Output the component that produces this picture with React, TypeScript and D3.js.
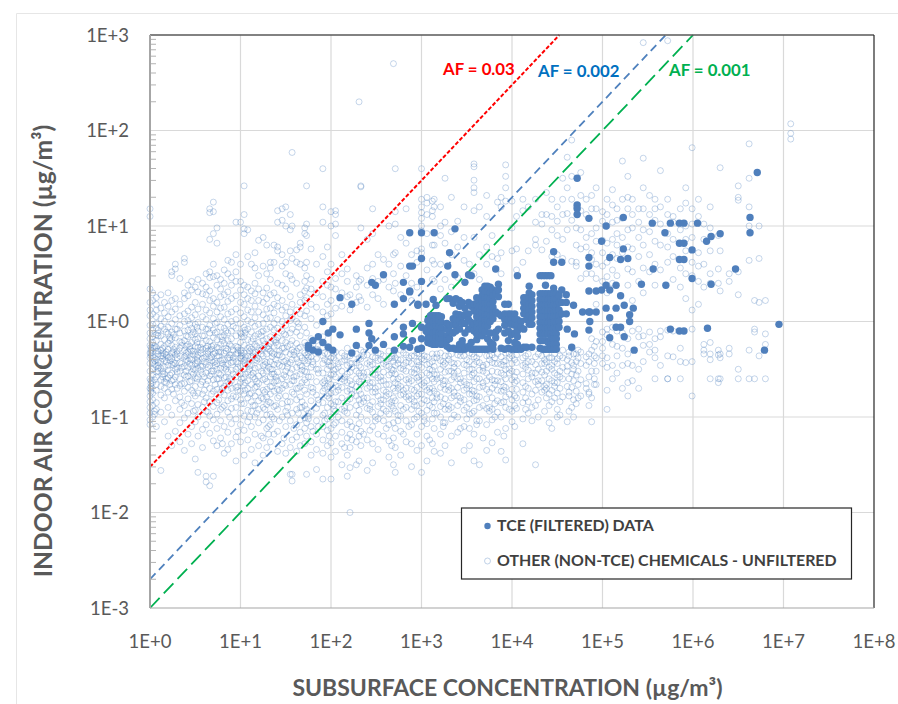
import React from "react";
import * as d3 from "d3";

// All values are log10 x 100: [x, y, y, y ...]
const otherLow: number[][] = [
[0,118,110,34,20,12,6,-4,-12,-18,-25,-33,-38,-44,-52,-60,-70,-78,-84,-90,-96,-103,-108],
[3,30,22,8,-3,-9,-16,-22,-28,-37,-43,-50,-56,-64,-75,-82,-88,-100],
[7,25,18,12,5,-2,-7,-14,-20,-27,-31,-40,-47,-53,-58,-66,-72,-85,-92,-110],
[12,28,14,3,-5,-15,-24,-30,-36,-42,-49,-61,-68,-77,-95,-156],
[16,20,9,0,-8,-19,-26,-34,-41,-48,-55,-63,-70,-80,-105],
[20,30,16,5,-6,-13,-23,-29,-38,-46,-51,-59,-74,-90,-120],
[24,52,48,22,10,-2,-11,-18,-25,-33,-39,-45,-54,-62,-71,-98,-130],
[28,60,55,24,13,2,-8,-17,-27,-35,-44,-50,-58,-66,-83,-115],
[33,45,18,6,-4,-12,-21,-28,-36,-43,-52,-60,-67,-79,-92,-106,-126],
[38,66,62,30,24,8,0,-10,-20,-30,-37,-47,-56,-65,-73,-88,-101,-135],
[42,38,27,11,1,-9,-16,-24,-32,-41,-48,-57,-69,-81,-96,-118],
[46,42,33,15,4,-7,-14,-22,-31,-40,-46,-53,-62,-72,-86,-110,-128],
[50,36,20,7,-3,-13,-19,-26,-34,-44,-51,-59,-68,-78,-93,-105,-144],
[53,44,31,13,-1,-10,-18,-27,-35,-42,-49,-58,-75,-87,-100,-120,-158],
[58,40,29,18,5,-6,-15,-23,-29,-39,-47,-55,-63,-76,-90,-113,-132],
[62,50,36,28,12,2,-8,-20,-28,-37,-45,-54,-66,-80,-94,-108,-162,-168],
[66,118,114,86,52,46,32,22,9,-4,-12,-21,-30,-38,-46,-57,-70,-84,-99,-117,-172],
[70,125,115,92,60,47,24,16,3,-9,-17,-25,-34,-43,-52,-61,-73,-89,-103,-125,-162],
[74,98,82,48,38,20,10,-1,-11,-19,-27,-36,-44,-50,-60,-71,-85,-97,-112,-130],
[78,44,34,26,14,5,-6,-16,-24,-32,-41,-49,-56,-65,-74,-92,-104,-122],
[82,54,40,28,15,2,-7,-14,-23,-33,-40,-48,-59,-68,-77,-88,-110,-138],
[86,64,50,31,21,8,-3,-12,-20,-29,-38,-45,-53,-63,-72,-83,-95,-116,-134],
[90,62,46,38,24,10,0,-10,-18,-26,-35,-43,-51,-62,-70,-81,-91,-107,-128],
[95,104,70,52,42,27,13,2,-7,-15,-26,-34,-42,-50,-58,-69,-79,-90,-102,-121,-146],
[100,104,60,42,33,20,9,-2,-12,-22,-31,-38,-47,-55,-64,-73,-82,-96,-108,-126],
[104,142,112,97,92,38,28,18,5,-6,-16,-25,-33,-41,-50,-59,-67,-76,-86,-99,-114,-140],
[108,96,68,36,24,12,1,-8,-19,-28,-36,-44,-53,-62,-70,-80,-93,-105,-124],
[112,60,32,22,10,-1,-11,-21,-29,-37,-46,-56,-66,-75,-84,-94,-110,-134],
[116,72,56,40,29,16,4,-5,-15,-24,-32,-40,-49,-60,-69,-78,-88,-100,-118,-148],
[120,85,48,34,22,10,-3,-13,-22,-30,-39,-48,-57,-65,-74,-83,-92,-106,-130],
[125,88,58,30,20,7,-2,-10,-20,-28,-36,-46,-54,-61,-72,-81,-90,-103,-122,-140],
[129,80,50,35,24,13,3,-8,-18,-27,-34,-43,-52,-63,-71,-79,-87,-98,-112,-132],
[133,62,56,44,28,14,4,-6,-16,-23,-31,-42,-50,-58,-68,-76,-85,-97,-108,-126],
[137,80,62,30,18,9,-2,-9,-19,-26,-34,-45,-55,-64,-73,-89,-102,-118],
[141,116,104,78,74,40,25,16,2,-7,-17,-25,-35,-44,-53,-62,-71,-80,-92,-115,-136],
[146,118,106,70,58,38,22,12,0,-10,-20,-28,-37,-47,-60,-70,-86,-100,-128],
[150,120,100,62,50,34,15,6,-4,-14,-22,-32,-41,-52,-58,-67,-78,-94,-110,-138],
[155,112,96,74,48,26,10,1,-12,-24,-34,-43,-54,-66,-84,-104,-132,-160],
[157,177,100,66,44,18,4,-8,-20,-30,-40,-50,-62,-74,-96,-124,-160,-167],
[162,75,62,40,12,0,-11,-23,-31,-39,-48,-57,-70,-82,-92,-108,-121,-136],
[166,82,78,60,28,20,8,-15,-27,-36,-46,-55,-68,-79,-90,-103,-116,-130],
[171,98,92,56,42,32,22,6,-6,-22,-33,-41,-52,-61,-72,-88,-101,-112,-128],
[173,142,102,90,62,48,35,25,11,-12,-25,-35,-44,-53,-64,-76,-92,-106,-120,-160],
[178,76,44,34,18,3,-18,-28,-37,-48,-58,-69,-83,-95,-110,-126,-140],
[184,60,30,15,-4,-20,-29,-39,-50,-63,-77,-91,-104,-118,-134,-155],
];
const otherMid: number[][] = [
[191,160,120,104,68,42,26,10,-16,-27,-36,-44,-54,-64,-73,-85,-98,-110,-124,-138,-165],
[196,78,52,38,18,6,-26,-34,-42,-50,-59,-68,-78,-90,-102,-114,-130],
[200,115,100,60,36,22,8,-30,-38,-47,-56,-66,-75,-86,-100,-112,-127,-142,-165],
[205,116,112,102,90,45,34,14,-32,-41,-50,-58,-67,-74,-84,-94,-106,-120,-136],
[212,70,50,30,16,-33,-42,-52,-60,-69,-80,-92,-104,-116,-128,-150],
[218,55,42,26,-28,-37,-46,-55,-64,-73,-83,-96,-108,-122,-140,-162],
[221,28,12,-36,-44,-53,-62,-71,-81,-90,-105,-118,-132,-153,-200],
[228,48,36,20,-34,-43,-52,-60,-68,-78,-88,-98,-112,-126,-150],
[231,230,42,26,-38,-46,-54,-63,-72,-82,-93,-107,-120,-146],
[233,141,142,98,44,22,-30,-39,-48,-57,-66,-76,-86,-100,-115,-130],
[240,86,56,38,15,-35,-44,-53,-61,-70,-80,-91,-104,-124,-156],
[246,118,92,60,45,28,-37,-45,-55,-64,-74,-84,-95,-110,-128,-148],
[252,70,42,24,-33,-41,-50,-59,-68,-78,-89,-102,-118,-134],
[258,65,44,18,-36,-44,-53,-62,-72,-82,-92,-104,-120],
[264,100,60,36,-31,-39,-47,-56,-66,-76,-86,-97,-108,-125,-142],
[269,270,70,50,32,-34,-42,-51,-60,-70,-80,-91,-106,-122,-150],
[271,160,115,102,72,40,-38,-46,-55,-64,-73,-83,-94,-112,-132,-158],
[277,88,58,28,-30,-40,-49,-58,-68,-77,-88,-99,-115,-140],
[283,118,82,48,-35,-43,-52,-61,-70,-79,-90,-104,-126],
[289,70,40,22,-36,-44,-53,-62,-71,-81,-92,-108,-128,-152],
[295,74,62,36,-33,-42,-50,-59,-69,-78,-88,-100,-118,-135],
[300,160,128,120,114,108,100,95,76,72,-31,-39,-48,-56,-66,-76,-86,-96,-110,-130,-158],
[306,130,124,112,92,54,-37,-45,-54,-62,-72,-83,-93,-107,-120,-146],
[312,126,116,110,80,64,44,-34,-42,-51,-60,-70,-80,-90,-102,-128],
[314,128,120,80,60,42,-38,-47,-55,-63,-73,-84,-96,-112,-136],
[321,120,100,90,60,34,-33,-41,-50,-59,-69,-79,-89,-100,-118,-138],
[326,150,104,82,44,-36,-44,-53,-62,-71,-81,-92,-106,-130],
[333,130,94,70,36,-34,-43,-52,-61,-70,-80,-90,-102,-120,-148],
[340,105,78,46,-35,-44,-52,-60,-69,-78,-88,-100,-116],
[347,120,88,64,-36,-45,-54,-63,-72,-82,-93,-110,-135],
[353,60,-33,-42,-50,-58,-67,-76,-86,-97,-112,-130],
[358,165,162,148,140,135,116,88,50,-37,-45,-54,-63,-73,-83,-94,-118,-146],
[364,120,70,44,-34,-43,-51,-60,-69,-79,-90,-104,-150],
[372,132,110,78,60,-36,-45,-54,-62,-71,-81,-91,-108,-135],
[378,90,68,30,-35,-43,-52,-61,-70,-80,-92,-103,-127],
[384,125,66,-34,-44,-53,-62,-72,-83,-95,-116],
[388,130,120,72,50,-37,-45,-54,-63,-73,-85,-100,-136],
[393,164,152,140,126,-33,-41,-50,-60,-69,-79,-90,-112,-145],
[400,126,98,74,-36,-44,-52,-61,-71,-82,-94,-105],
[405,110,76,54,-35,-43,-53,-62,-71,-80,-91],
[412,128,116,62,-38,-46,-55,-64,-74,-85,-102,-128],
[418,120,74,-34,-42,-51,-60,-70,-84,-96],
[426,128,104,86,80,-37,-45,-54,-63,-72,-88,-150],
[433,112,102,75,-36,-44,-53,-62,-74],
[438,135,112,84,-34,-42,-52,-66,-70,-80],
[444,128,110,96,68,-38,-46,-50,-62,-72,-84,-112],
];
const otherHigh: number[][] = [
[450,120,105,90,70,-39,-44,-56,-64,-75,-92,-100],
[456,150,128,112,86,66,-30,-38,-48,-60,-79],
[461,172,140,113,96,-40,-47,-52,-68,-105],
[466,190,152,128,106,63,-28,-43,-55,-69,-90],
[471,120,98,80,62,58,-34,-42,-56,-73,-86],
[476,156,132,116,96,76,45,-32,-44,-61,-78],
[482,128,112,88,78,50,-37,-46,-65,-70],
[488,132,118,92,72,65,50,-18,-30,-52,-80,-105],
[493,140,118,98,84,60,45,18,-21,-38,-52,-66],
[500,115,105,85,72,58,42,-11,-21,-28,-36,-44],
[505,128,112,100,82,62,47,30,-8,-14,-38,-48,-72,-92],
[511,138,122,104,86,70,54,40,-6,-24,-46,-60],
[516,118,106,92,80,66,48,-10,-26,-36,-54],
[522,168,128,108,88,72,-12,-28,-46,-70],
[528,152,130,118,96,78,55,38,-18,-34,-44,-64,-78],
[533,128,112,98,76,52,22,-10,-46,-62],
[540,118,104,88,68,42,-8,-16,-50,-70],
[545,292,171,140,118,96,80,56,30,-15,-25,-42],
[552,132,112,94,70,52,-11,-24,-32],
[558,128,118,106,84,60,38,-18,-30,-38,-60],
[564,158,120,102,80,54,-10,-16,-46],
[572,294,128,112,92,78,62,-9,-36,-60,-60],
[578,110,104,86,68,44,-10,-37],
[586,118,96,82,56,36,-28,-60,-42],
[592,140,124,100,86,74,50,24,-43],
[599,182,118,102,88,62,48,12,-8,-42,-78],
[606,128,110,72,58,42,18],
[612,102,86,60,36,-24,-30,-34],
[619,120,98,74,50,40,-22,-34,-40,-60],
[628,90,55,40,-35,-30,-60,-64],
[630,161,74,32,-34,-38,-60],
[640,50,42,-28,-34],
[650,142,130,127,52,28,-50,-60],
[662,186,150,120,100,64,-30,-60],
[668,22,-8,-11,-60],
[673,100,66,20,-36],
[680,22,-13,-24,-60],
[708,207,197,191],
];
// Tight vertical stacks and clumps that show as darker rings in the picture
const otherStacksLeft: number[][] = [
[1,-36,-33,-30,-27,-74,-71,-68,-65,-62],
[5,-28,-26,-45,-41,-38,-61,-94,-97],
[9,-15,-12,-9,-34,-31,-52,-49,-46,-43],
[14,-39,-36,-33,-58,-55,-52,-28],
[18,-35,-32,-11,-64,-60,-42],
[22,-41,-37,-20,-17,-66,-56],
[26,-32,-29,-46,-43,-14,-61,-76],
[30,-38,-34,-31,-8,-53,-49,-70],
[35,-25,-22,-48,-44,-65,-85],
[40,-40,-36,-33,-26,-15,-52,-58],
[44,-29,-26,-44,-39,-3,-63],
[48,-35,-31,-11,-55,-50,-75,-94],
[52,-44,-41,-37,-22,-6,-60],
[56,-33,-30,-27,-51,-47,-66],
[60,-42,-38,-15,-58,-72,-84],
[64,-34,-31,-26,-48,-8,-62,-95],
[68,-29,-26,-41,-37,-55,-52,-76],
[72,-46,-42,-33,-12,-2,-66],
[76,-36,-32,-28,-54,-60,-82],
[80,-44,-40,-20,-16,-70,-90,-128],
[84,-31,-28,-50,-46,-10,-58],
[88,-38,-35,-24,-65,-60,-100],
[92,-42,-38,-30,-5,-55,-78],
[97,-33,-30,-27,-48,-44,-72,-68,-115],
[101,-39,-36,-33,-30,-16,-13,-60,-86],
[105,-44,-40,-37,-12,-9,-55,-64,-72],
[110,-31,-27,-50,-46,-76,-100],
[114,-36,-33,-58,-54,-18,-88],
[118,-41,-38,-26,-68,-63,-96],
[123,-34,-30,-15,-11,-52,-80,-120],
[127,-45,-42,-24,-60,-74,-92],
[131,-29,-26,-48,-84,-110,-118],
[135,-37,-33,-55,-50,-68,-100],
[139,-40,-22,-19,-62,-58,-88],
[143,-35,-31,-46,-72,-78,-104],
[148,-42,-28,-13,-56,-66,-122],
[152,-26,-48,-44,-84,-90,-98],
[159,-35,-32,-62,-58,-76,-112],
[164,-43,-28,-6,-2,-70,-96],
[168,-38,-51,-47,-64,-84,-90],
[175,-41,-37,-33,-30,-58,-102,-99,-96],
[180,-45,-42,-24,-20,-74,-70,-115],
[186,-30,-54,-50,-86,-82,-110],
];
const otherStacksRight: number[][] = [
[193,-40,-33,-70,-66,-62,-96,-104],
[198,-46,-42,-80,-76,-60,-120],
[203,-34,-38,-55,-51,-92,-88,-108],
[208,-44,-48,-72,-68,-84,-100],
[215,-36,-40,-58,-62,-94,-90,-132],
[223,-48,-44,-66,-76,-72,-110,-124],
[236,-32,-36,-58,-54,-84,-80,-118],
[243,-42,-46,-68,-64,-92,-88,-114],
[249,-38,-50,-56,-74,-70,-104,-100],
[255,-34,-40,-62,-58,-86,-82,-96],
[261,-46,-42,-66,-78,-74,-94,-112],
[267,-38,-36,-54,-50,-84,-88,-130],
[274,-44,-40,-60,-70,-66,-98,-104],
[280,-33,-50,-46,-76,-72,-92,-118],
[286,-42,-38,-64,-60,-82,-78,-110],
[292,-36,-54,-50,-72,-88,-84,-102],
[297,-34,-46,-42,-62,-58,-76,-94],
[303,-40,-36,-68,-64,-82,-104,-100],
[309,-44,-50,-56,-74,-70,-88,-124],
[317,-34,-38,-60,-56,-80,-76,-96],
[324,-46,-42,-66,-62,-86,-110,-106],
[330,-36,-40,-52,-72,-68,-92,-88],
[336,-48,-44,-58,-54,-78,-74,-98],
[343,-36,-32,-64,-60,-84,-80,-112],
[350,-40,-46,-70,-66,-90,-102],
[356,-34,-50,-56,-76,-72,-96],
[361,-42,-38,-60,-82,-78,-108,-104],
[368,-46,-52,-48,-68,-64,-88,-122],
[375,-36,-40,-58,-74,-94,-90],
[381,-38,-44,-66,-62,-86,-100],
[391,-42,-46,-56,-72,-68,-84,-120],
[397,-34,-38,-54,-50,-76,-92],
[403,-40,-58,-64,-78,-88,-110],
[415,-36,-48,-44,-68,-80,-92],
[422,-42,-58,-54,-76,-90,-104],
[429,-34,-50,-66,-62,-82,-100],
[436,-44,-40,-56,-72,-68,-94],
[441,-38,-48,-60,-76,-88,-106],
[447,-34,-42,-54,-68,-64,-80],
[453,-36,-52,-58,-70,-84,-98],
[463,-32,-36,-60,-74,-78,-94],
[468,-34,-50,-46,-62,-82,-100],
[473,-38,-30,-52,-66,-80],
[485,-34,-42,-58,-74,-76,-88],
[491,-36,-26,-44,-60,-66],
];
const tceSparse: number[][] = [
[175,-25,-28],[180,-20,-30],[186,-32,-16],[191,0,-22],[197,-27,-12],[202,-8,-30],[210,25,-14],[223,18,-33],[228,-8,-25],[242,-2,-12,-25],[245,41,-18],[249,38,-30],[258,49,-24],[270,18,-16,-30],[280,41,24,-6,-13,-26],[287,93,58,31,32,-27],[290,58,-20,-2],[296,18,-29,17],[300,93,66,42,-18,-6,-28],[305,18,-10],[314,93],[329,58],[331,72],[337,97,49],
];
const tceBlocks: number[][] = [
[307,1,-6,-12,-18,-22],[310,6,1,-5,-11,-17,-23],[313,23,6,0,-6,-12,-18,-24],[316,17,6,1,-5,-11,-17,-24],[319,6,0,-6,-12,-18,-23],[322,5,-1,-7,-13,-19,-24],[328,24,-2,-8,-15,-20,-26],[331,24,-4,-10,-18,-28],[335,22,19,3,-3,-12,-28],[338,24,8,2,-4,-10,-29],[342,22,16,7,1,-8,-29,-24],[345,20,5,-2,-20,-29,-24],[348,41,14,7,-2,-12,-29],[352,49,20,8,2,-8,-26],[355,48,16,-1,-7,-29,-22],[358,18,11,-3,-10,-29],[361,25,18,11,5,-1,-7,-13,-19,-29],[364,22,16,10,4,-2,-8,-14,-29],[367,33,27,21,15,9,3,-3,-9,-15,-29],[370,37,31,25,19,13,7,1,-5,-11,-29],[373,37,31,25,19,13,7,1,-5,-18,-29],[376,36,30,24,18,12,6,0,-12,-22,-28],[379,33,27,21,15,9,3,-24,-29],[382,55,30,10,-11,-17],[385,39,33,26,8,-8],[388,6,-28],[392,18,8,2,-4,-12,-29],[396,18,8,2,-10,-20,-28],[399,8,2,-3,-14,-29],[403,8,2,-4,-12,-22,-29],[406,48,2,-4,-10,-16,-24,-29],[410,0,-6,-29],[413,25,20,14,8,-8,-27],[416,25,20,14,8,2,-27],[419,37,30,24,18,12,6,-3],[422,28,22,16,10,4,-3,-27],
[431,48,29,23,17,11,5,-1,-7,-13,-20,-28],[434,48,29,23,17,11,5,-1,-7,-13,-20,-29],[437,48,38,29,23,17,11,5,-1,-7,-13,-20,-29],[440,48,29,23,17,11,5,-1,-7,-13,-22,-29],[443,48,29,23,17,11,5,-1,-7,-13,-18,-24,-29],[446,73,62,35,29,23,17,11,5,-1,-7,-13,-18,-24,-29],[449,29,23,17,11,5,-1,-7,-13,-18,-24,-29],[452,27,20,12,6,0,-6],[455,62,33,20,8],[460,28,20,8],[461,-8],[466,-27],[468,17],[469,-13],[472,150,122,118,112],
];
const tceHigh: number[][] = [
[478,10],[485,108,67,58,32,10,-9],[486,10,0],[493,32,10],[499,84,33],[504,100,38,14],[508,67,33,4,-17],[515,38,14,-6],[520,65,27,-6],[523,109,76],[524,17,-16],[528,66],[530,7,0],[534,14],[535,-30],[543,39],[555,103],[556,55],[570,38],[569,93],[575,103,-8],[585,103,82,65,-10],[590,103,82,65,-10],[599,75,45],[605,103],[615,84],[616,-7],[620,89,39],[630,92],[647,55],[663,109,93],[671,156],[679,-30],[695,-3],
];
const yTickExp = [-3, -2, -1, 0, 1, 2, 3];
const xTickExp = [0, 1, 2, 3, 4, 5, 6, 7, 8];
const afValues = [0.03, 0.002, 0.001];
const afNames = ["AF = 0.03", "AF = 0.002", "AF = 0.001"];
const afColors = ["#ff0000", "#4f81bd", "#00b050"];
const afLabelColors = ["#ff0000", "#0070c0", "#00b050"];
const legendNames = ["TCE (FILTERED) DATA", "OTHER (NON-TCE) CHEMICALS - UNFILTERED"];

const font = "Lato, Carlito, 'Noto Sans', sans-serif";
const plot = { l: 150, r: 874, t: 35, b: 608 };
const x = d3.scaleLog().domain([1, 1e8]).range([plot.l, plot.r]);
const y = d3.scaleLog().domain([1e-3, 1e3]).range([plot.b, plot.t]);
const expand = (cols: number[][]) =>
  cols.flatMap(([cx, ...ys]) => ys.map((v) => [Math.pow(10, cx / 100), Math.pow(10, v / 100)]));
const others = expand([...otherLow, ...otherMid, ...otherHigh, ...otherStacksLeft, ...otherStacksRight]);
const tce = expand([...tceSparse, ...tceBlocks, ...tceHigh]);
const minorY = yTickExp.slice(0, -1).flatMap((e) => d3.range(2, 10).map((m) => m * Math.pow(10, e)));
const lineGen = d3.line<number[]>().x((d) => x(d[0])).y((d) => y(d[1]));
const afDash = ["4 2", "8 5", "14 6"];
const afLabelPos = [[443, 75], [538, 77], [669, 76]];

export default function App() {
  return (
    <svg width={898} height={704} style={{ position: "absolute", left: 0, top: 0, background: "#fff" }} fontFamily={font}>
      <path d="M16.5 704V13.5H898" fill="none" stroke="#e6e6e6" strokeWidth={1} />
      {xTickExp.slice(1, -1).map((e) => (
        <line key={e} x1={x(Math.pow(10, e))} x2={x(Math.pow(10, e))} y1={plot.t} y2={plot.b} stroke="#d9d9d9" strokeWidth={1.2} />
      ))}
      {yTickExp.slice(1, -1).map((e) => (
        <line key={e} x1={plot.l} x2={plot.r} y1={y(Math.pow(10, e))} y2={y(Math.pow(10, e))} stroke="#d9d9d9" strokeWidth={1.2} />
      ))}
      <g fill="none" stroke="#4f81bd" strokeOpacity={0.32} strokeWidth={1}>
        {others.map((d, i) => <circle key={i} cx={x(d[0])} cy={y(d[1])} r={3} />)}
      </g>
      {afValues.map((af, i) => (
        <path key={af} d={lineGen([[1, af], [1000 / af, 1000]]) || ""} fill="none" stroke={afColors[i]} strokeWidth={i === 0 ? 2 : 1.8} strokeDasharray={afDash[i]} />
      ))}
      <g fill="#4f7fbc">
        {tce.map((d, i) => <circle key={i} cx={x(d[0])} cy={y(d[1])} r={3.7} />)}
      </g>
      {minorY.map((v) => (
        <line key={v} x1={plot.l} x2={plot.l + 6} y1={y(v)} y2={y(v)} stroke="#b3b3b3" strokeWidth={1} />
      ))}
      <line x1={plot.l} x2={plot.r} y1={plot.t} y2={plot.t} stroke="#595959" strokeWidth={1.4} />
      <line x1={plot.r} x2={plot.r} y1={plot.t} y2={plot.b} stroke="#262626" strokeWidth={1.2} />
      <line x1={plot.l} x2={plot.r} y1={plot.b} y2={plot.b} stroke="#a6a6a6" strokeWidth={1.2} />
      <line x1={plot.l} x2={plot.l} y1={plot.t} y2={plot.b} stroke="#a6a6a6" strokeWidth={2} />
      {yTickExp.map((e) => (
        <text key={e} x={129} y={y(Math.pow(10, e)) + 6.5} textAnchor="end" fontSize={18.5} fill="#595959">
          {`1E${e < 0 ? "-" : "+"}${Math.abs(e)}`}
        </text>
      ))}
      {xTickExp.map((e) => (
        <text key={e} x={x(Math.pow(10, e))} y={648} textAnchor="middle" fontSize={18.5} fill="#595959">
          {`1E+${e}`}
        </text>
      ))}
      <text x={507.5} y={696} textAnchor="middle" fontSize={23} fontWeight={700} fill="#595959">SUBSURFACE CONCENTRATION (µg/m³)</text>
      <text transform="translate(51.5,351) rotate(-90)" textAnchor="middle" fontSize={24.7} fontWeight={700} fill="#595959">INDOOR AIR CONCENTRATION (µg/m³)</text>
      {afNames.map((n, i) => (
        <text key={n} x={afLabelPos[i][0]} y={afLabelPos[i][1]} fontSize={16.8} fontWeight={700} fill={afLabelColors[i]}>{n}</text>
      ))}
      <rect x={461.5} y={508} width={390} height={71} fill="#fff" stroke="#262626" strokeWidth={1.2} />
      <circle cx={487.5} cy={526} r={3.2} fill="#4f7fbc" />
      <circle cx={487.5} cy={561} r={3} fill="none" stroke="#4f81bd" strokeOpacity={0.35} />
      {legendNames.map((n, i) => (
        <text key={n} x={497} y={531 + i * 35} fontSize={15.9} fontWeight={700} fill="#404040">{n}</text>
      ))}
    </svg>
  );
}
